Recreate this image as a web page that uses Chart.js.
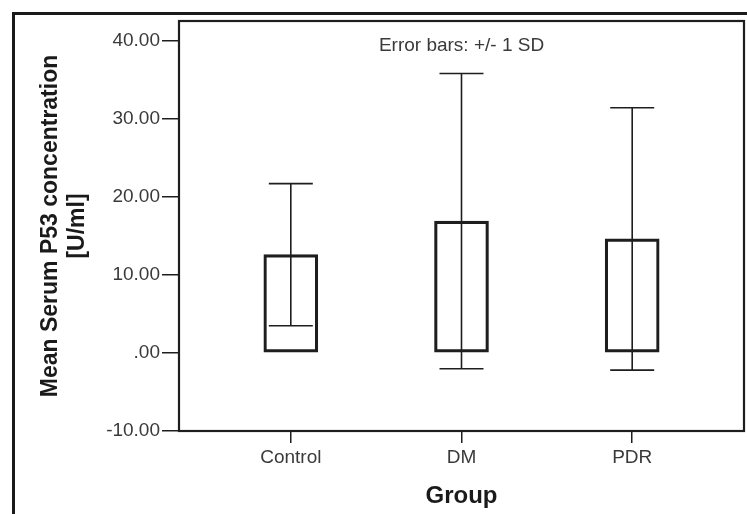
<!DOCTYPE html>
<html>
<head>
<meta charset="utf-8">
<script src="https://cdn.jsdelivr.net/npm/chart.js@4.4.1/dist/chart.umd.min.js"></script>
<style>
  html, body { margin: 0; padding: 0; background: #fff; }
  #wrap { position: relative; width: 747px; height: 514px; overflow: hidden; }
  #outer-frame { position: absolute; left: 12px; top: 12px; width: 760px; height: 520px; border-left: 3px solid #1a1a1a; border-top: 3px solid #1a1a1a; pointer-events: none; }
</style>
</head>
<body>
<div id="wrap">
  <canvas id="bar-chart-1" width="747" height="514"></canvas>
  <div id="outer-frame"></div>
</div>
<script>
const groups = ['Control', 'DM', 'PDR'];
const meanValues = [12.58, 16.88, 14.6];
const sdValues = [9.1, 18.9, 16.8];
const yTickValues = [-10, 0, 10, 20, 30, 40];
const yTickLabels = ['-10.00', '.00', '10.00', '20.00', '30.00', '40.00'];

const fontFamily = '"Liberation Sans", Arial, sans-serif';
const lineColor = '#1e1e1e';

// error bars (+/- 1 SD) drawn on top of the bars
const errorBarPlugin = {
  id: 'errorBars',
  afterDatasetsDraw(chart) {
    const { ctx, scales: { x, y } } = chart;
    const capHalf = 22;
    ctx.save();
    ctx.strokeStyle = lineColor;
    ctx.lineWidth = 1.6;
    meanValues.forEach((mean, i) => {
      const px = x.getPixelForValue(i);
      const top = y.getPixelForValue(mean + sdValues[i]);
      const bottom = y.getPixelForValue(mean - sdValues[i]);
      ctx.beginPath();
      ctx.moveTo(px, top);
      ctx.lineTo(px, bottom);
      ctx.moveTo(px - capHalf, top);
      ctx.lineTo(px + capHalf, top);
      ctx.moveTo(px - capHalf, bottom);
      ctx.lineTo(px + capHalf, bottom);
      ctx.stroke();
    });
    ctx.restore();
  }
};

// box around the plot area + the "Error bars" note
const framePlugin = {
  id: 'plotFrame',
  afterDraw(chart) {
    const { ctx, chartArea: a } = chart;
    ctx.save();
    ctx.strokeStyle = lineColor;
    ctx.lineWidth = 2.2;
    ctx.strokeRect(a.left, a.top, a.right - a.left, a.bottom - a.top);
    ctx.fillStyle = '#3a3a3a';
    ctx.font = '19px ' + fontFamily;
    ctx.textAlign = 'center';
    ctx.textBaseline = 'middle';
    ctx.fillText('Error bars: +/- 1 SD', (a.left + a.right) / 2, a.top + 25);
    ctx.restore();
  }
};

new Chart(document.getElementById('bar-chart-1'), {
  type: 'bar',
  data: {
    datasets: [
      {
        label: 'Mean',
        data: meanValues.map((m, i) => ({ x: i, y: m })),
        backgroundColor: 'rgba(255,255,255,0)',
        borderColor: lineColor,
        borderWidth: 2.5,
        borderSkipped: false,
        barThickness: 54
      }
    ]
  },
  options: {
    responsive: false,
    animation: false,
    layout: {
      padding: { left: 0, right: 3, top: 21, bottom: 0 }
    },
    scales: {
      x: {
        type: 'linear',
        offset: false,
        min: -0.655,
        max: 2.655,
        afterBuildTicks: (scale) => {
          scale.ticks = groups.map((g, i) => ({ value: i }));
        },
        afterFit: (scale) => {
          scale.height = 83;
        },
        border: { display: false },
        grid: {
          offset: false,
          drawOnChartArea: false,
          drawTicks: true,
          tickLength: 12,
          color: lineColor,
          lineWidth: 1.5
        },
        ticks: {
          padding: 3,
          maxRotation: 0,
          color: '#3a3a3a',
          font: { family: fontFamily, size: 19 },
          callback: (value) => groups[value]
        },
        title: {
          display: true,
          text: 'Group',
          color: '#1a1a1a',
          font: { family: fontFamily, size: 24, weight: 'bold', lineHeight: 1.2 },
          padding: { top: 0, bottom: 3 }
        }
      },
      y: {
        min: -10,
        max: 42.5,
        afterBuildTicks: (scale) => {
          scale.ticks = yTickValues.map(v => ({ value: v }));
        },
        afterFit: (scale) => {
          scale.width = 179;
        },
        border: { display: false },
        grid: {
          drawOnChartArea: false,
          drawTicks: true,
          tickLength: 17,
          color: lineColor,
          lineWidth: 1.5
        },
        ticks: {
          padding: 2,
          color: '#3a3a3a',
          font: { family: fontFamily, size: 19 },
          callback: (value) => yTickLabels[yTickValues.indexOf(value)]
        },
        title: {
          display: true,
          text: ['Mean Serum P53 concentration', '[U/ml]'],
          color: '#1a1a1a',
          font: { family: fontFamily, size: 23, weight: 'bold', lineHeight: 1.17 },
          padding: { top: 37, bottom: 0 }
        }
      }
    },
    plugins: {
      legend: { display: false },
      tooltip: { enabled: false }
    }
  },
  plugins: [errorBarPlugin, framePlugin]
});
</script>
</body>
</html>
